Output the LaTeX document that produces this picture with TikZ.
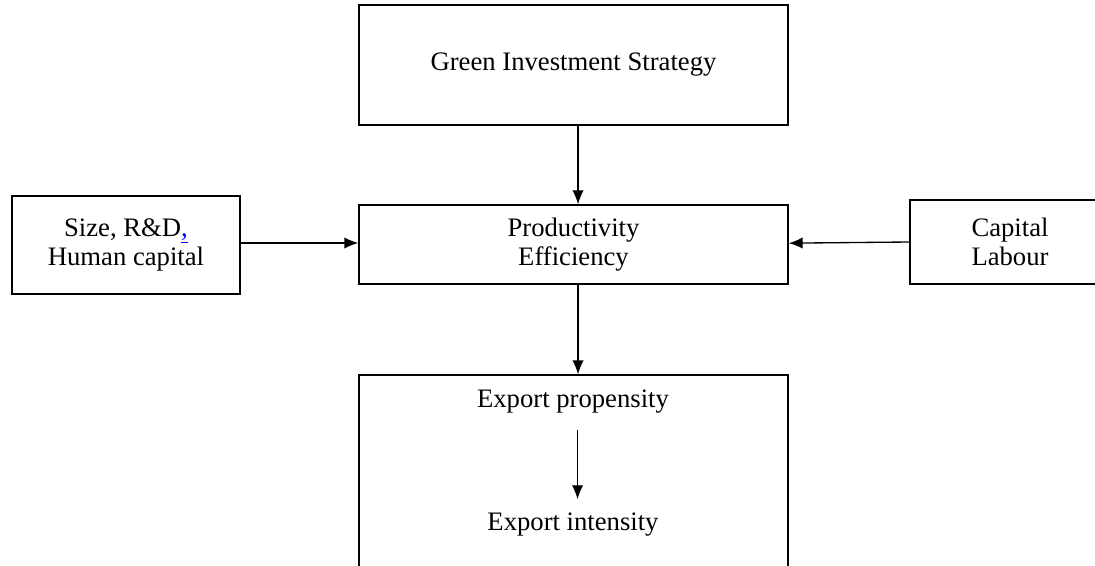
\documentclass[tikz,border=0pt]{standalone}
\usepackage{fontspec}
\setmainfont{Liberation Serif}
\usetikzlibrary{arrows.meta}
\tikzset{box/.style={draw, rectangle, line width=1pt, align=center, inner sep=0pt},
  link/.style={-{Latex[length=10.5pt,width=8.5pt]}, line width=1pt}}
\begin{document}
\begin{tikzpicture}[x=0.75pt, y=-0.75pt, font=\fontsize{20}{22}\selectfont]
  \useasboundingbox (0,0) rectangle (1095,566);
  \clip (0,0) rectangle (1095,566);
  \node[box, minimum width=321.75pt, minimum height=90pt] (gis) at (573.5,65) {Green Investment Strategy};
  \node[box, minimum width=321.75pt, minimum height=59.25pt] (prod) at (573.5,244.5) {Productivity\\Efficiency};
  \node[box, minimum width=171pt, minimum height=73.5pt] (size) at (126,245) {Size, R\&D\textcolor{blue}{\underline{,}}\\Human capital};
  \node[box, minimum width=150pt, minimum height=63pt] (cap) at (1010,242) {Capital\\Labour};
  \node[box, minimum width=321.75pt, minimum height=180pt] (exp) at (573.5,495) {};
  \node (prop) at (573,402) {Export propensity};
  \node (inten) at (573,525) {Export intensity};
  \draw[link] ([xshift=3.4pt]gis.south) -- ([xshift=3.4pt]prod.north);
  \draw[link] ([xshift=3.4pt]prod.south) -- ([xshift=3.4pt]exp.north);
  \draw[link] ([yshift=1.5pt]size.east) -- ([yshift=1.5pt]size.east -| prod.west);
  \draw[link] (cap.west) -- ([yshift=1pt]prod.east);
  \draw[link] ([xshift=3.4pt,yshift=-9pt]prop.south) -- ([xshift=3.4pt,yshift=7pt]inten.north);
\end{tikzpicture}
\end{document}
